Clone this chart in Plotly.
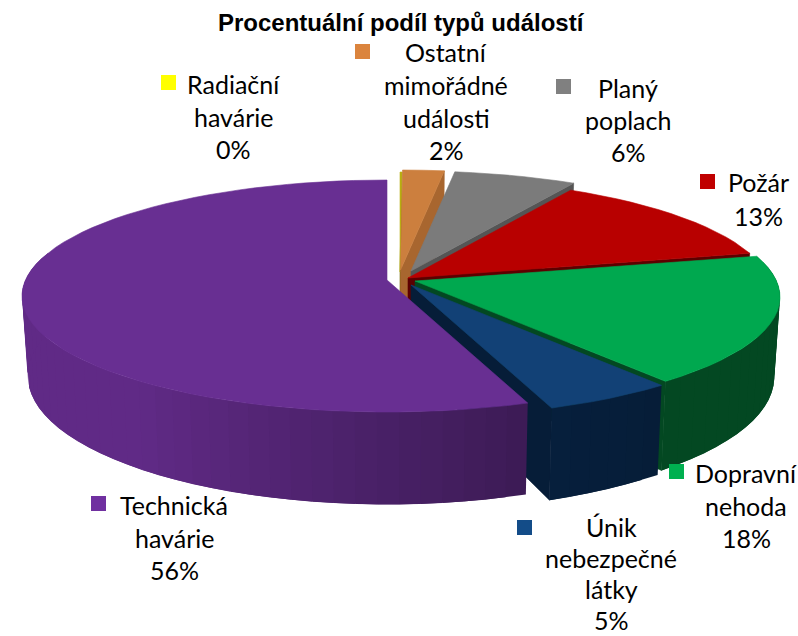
import math
import plotly.graph_objects as go

# ---- data (percent of all events, clockwise from the top) ----
categories = ["Radiační havárie", "Ostatní mimořádné události", "Planý poplach", "Požár",
              "Dopravní nehoda", "Únik nebezpečné látky", "Technická havárie"]
values = [0.1, 2.1, 6.2, 13.0, 18.0, 5.1, 55.5]
label_lines = [["Radiační", "havárie"], ["Ostatní", "mimořádné", "události"], ["Planý", "poplach"],
               ["Požár"], ["Dopravní", "nehoda"], ["Únik", "nebezpečné", "látky"], ["Technická", "havárie"]]
title_text = "Procentuální podíl typů událostí"

# ---- styles and layout ----
W, H = 798, 636
key_colors = ["#FFFF00", "#DB843D", "#808080", "#C00000", "#00B050", "#134C88", "#7030A0"]
top_colors = ["#B8B010", "#CC7F3E", "#7B7B7B", "#B80000", "#00A84F", "#124176", "#682F92"]
side_a = [(110, 105, 0), (168, 102, 47), (85, 85, 85), (92, 0, 0), (3, 72, 34), (6, 29, 56), (60, 27, 85)]
side_b = [(110, 105, 0), (168, 102, 47), (85, 85, 85), (92, 0, 0), (3, 72, 34), (6, 31, 60), (96, 42, 134)]
apexes = [(400, 272), (400.5, 270), (411, 271), (408, 278), (415, 281), (411, 285), (387, 280)]
draw_order = [0, 1, 2, 3, 4, 5, 6]
key_pos = [(161, 75), (355, 44), (556, 79), (700, 174), (669, 464), (517, 520), (91, 496)]
label_pos = [(233, [84, 117, 149]), (446, [52, 85, 118, 150]), (628, [88, 120, 152]),
             (758, [182, 216]), (746, [473, 506, 538]), (611, [527, 558, 589, 620]), (174, [505, 538, 570])]
R, K, P = 361.5, 113.8, 0.138
CX, CY = 402, 280


def top_pt(apex, deg):
    t = math.radians(deg)
    X, Y = math.sin(t), math.cos(t)
    s = 1 / (1 + P * Y)
    return apex[0] + R * X * s, apex[1] - K * Y * s


def bot_pt(p):
    return CX + 0.985 * (p[0] - CX), p[1] + 78 + 0.11 * (p[1] - CY)


def poly(fig, pts, color, lw=0.6):
    fig.add_trace(go.Scatter(x=[p[0] for p in pts] + [pts[0][0]], y=[p[1] for p in pts] + [pts[0][1]],
                             mode="lines", fill="toself", fillcolor=color,
                             line=dict(color=color, width=lw), hoverinfo="skip", showlegend=False))


def rgb(c):
    return "rgb(%d,%d,%d)" % tuple(round(v) for v in c)


fig = go.Figure()
edges = [0.0]
for v in values:
    edges.append(edges[-1] + v * 3.6)

for i in draw_order:
    a0, a1 = edges[i], edges[i + 1]
    apex = apexes[i]
    n = max(2, int((a1 - a0) / 3))
    angs = [a0 + (a1 - a0) * k / n for k in range(n + 1)]
    # radial end face
    end = top_pt(apex, a1)
    if i != 6:
        poly(fig, [apex, end, bot_pt(end), bot_pt(apex)], rgb(side_a[i]))
    # rim, in shaded strips: each strip overlaps the next, which paints over it
    for k in range(n):
        if math.cos(math.radians(angs[k + 1])) > 0.2 or math.cos(math.radians(angs[k])) > 0.95:
            continue
        f = min(1.0, (k + 0.5) / n * 3.5) if i == 6 else (k + 0.5) / n
        col = [side_a[i][c] + (side_b[i][c] - side_a[i][c]) * f for c in range(3)]
        rim = [top_pt(apex, a) for a in angs[k:k + 3]]
        poly(fig, rim + [bot_pt(p) for p in reversed(rim)], rgb(col), lw=0)
    # top face
    poly(fig, [apex] + [top_pt(apex, a) for a in angs], top_colors[i])

annotations = [dict(x=401, y=22, text="<b>" + title_text + "</b>", showarrow=False, xanchor="center",
                    yanchor="middle", font=dict(family="Liberation Sans", size=24, color="#000000"))]
shapes = []
for i, lines in enumerate(label_lines):
    x, ys = label_pos[i]
    for line, y in zip(lines + [f"{round(values[i])}%"], ys):
        annotations.append(dict(x=x, y=y, text=line, showarrow=False, xanchor="center", yanchor="middle",
                                font=dict(family="Lato", size=25, color="#000000")))
    kx, ky = key_pos[i]
    shapes.append(dict(type="rect", x0=kx, x1=kx + 15, y0=ky, y1=ky + 15,
                       fillcolor=key_colors[i], line=dict(width=0)))

fig.update_layout(
    width=W, height=H, margin=dict(l=0, r=0, t=0, b=0),
    paper_bgcolor="white", plot_bgcolor="white", showlegend=False,
    xaxis=dict(range=[0, W], visible=False, fixedrange=True),
    yaxis=dict(range=[H, 0], visible=False, fixedrange=True),
    annotations=annotations, shapes=shapes,
)
fig.write_html("out.html", config={"displayModeBar": False},
               post_script="document.body.style.margin='0';document.body.style.overflow='hidden';")
